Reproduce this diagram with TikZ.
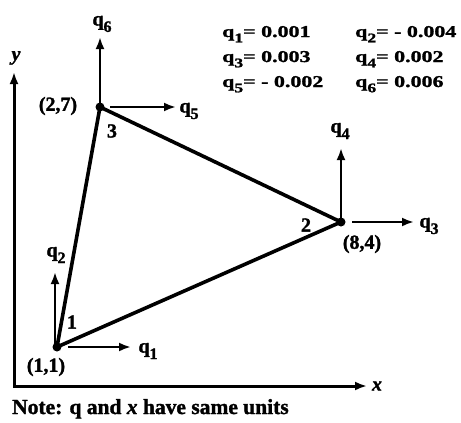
\documentclass[tikz,border=0pt]{standalone}
\usepackage{fontspec}
\setmainfont{Liberation Serif}
\newfontfamily\tablefont[FakeStretch=1.33, FakeBold=1.5]{Liberation Serif}
\newfontfamily\heavyfont[FakeBold=1.5]{Liberation Serif}
\usetikzlibrary{arrows.meta, positioning}

\tikzset{
  joint/.style={circle, fill=black, inner sep=0pt, minimum size=9pt},
  member/.style={line width=3.6pt, line join=round},
  dof/.style={line width=2.6pt, -{Latex[length=12pt,width=9pt]}},
  axis/.style={line width=3pt},
  lbl/.style={font=\heavyfont\fontsize{20}{22}\selectfont\bfseries, inner sep=0pt},
  val/.style={font=\tablefont\fontsize{16.5}{18}\selectfont\bfseries, anchor=base west, inner sep=0pt},
}
% q with a lowered index
\newcommand\qs[1]{q\raisebox{-0.7ex}{\scalebox{0.8}{#1}}}

\begin{document}
\begin{tikzpicture}[x=1pt, y=-1pt]
    \path[use as bounding box] (0,0) rectangle (461,423);

    % axes
    \coordinate (o) at (14,386);
    \coordinate (ytip) at (14,72);
    \coordinate (xtip) at (367,386);
    \draw[axis, {Latex[length=12pt,width=9pt]}-{Latex[length=12pt,width=9pt]}] (ytip) -- (o) -- (xtip);
    \node[lbl, font=\heavyfont\fontsize{20}{22}\selectfont\bfseries\itshape] (ylbl) at (16,58) {y};
    \node[lbl, font=\heavyfont\fontsize{20}{22}\selectfont\bfseries\itshape] (xlbl) at (377,386) {x};

    % element
    \node[joint] (n1) at (57,347) {};
    \node[joint] (n2) at (341,222) {};
    \node[joint] (n3) at (100,107) {};
    \draw[member] (n1.center) -- (n2.center) -- (n3.center) -- cycle;

    \node[lbl] (k1) at (72,322) {1};
    \node[lbl] (k2) at (306,225) {2};
    \node[lbl] (k3) at (112,131) {3};
    \node[lbl] (c1) at (46,367) {(1,1)};
    \node[lbl] (c2) at (362,244) {(8,4)};
    \node[lbl] (c3) at (58,106) {(2,7)};

    % nodal displacements
    \coordinate (e1) at (131,347);
    \coordinate (e2) at (55,272);
    \coordinate (e3) at (414,222);
    \coordinate (e4) at (341,148);
    \coordinate (e5) at (176,107);
    \coordinate (e6) at (100,37);
    \draw[dof] ([xshift=11pt]n1.center) -- (e1);
    \draw[dof] ([xshift=-2pt]n1.center) -- (e2);
    \draw[dof] ([xshift=11pt]n2.center) -- (e3);
    \draw[dof] (n2.center) -- (e4);
    \draw[dof] ([xshift=10pt]n3.center) -- (e5);
    \draw[dof] (n3.center) -- (e6);
    \node[lbl] (q1) at (148,351) {\qs1};
    \node[lbl] (q2) at (56,255) {\qs2};
    \node[lbl] (q3) at (429,226) {\qs3};
    \node[lbl] (q4) at (340,131) {\qs4};
    \node[lbl] (q5) at (189,111) {\qs5};
    \node[lbl] (q6) at (102,24) {\qs6};

    % values
    \node[val] (v1) at (222,37) {\qs1= 0.001};
    \node[val] (v2) at (355,37) {\qs2= - 0.004};
    \node[val] (v3) at (222,62) {\qs3= 0.003};
    \node[val] (v4) at (355,62) {\qs4= 0.002};
    \node[val] (v5) at (222,87) {\qs5= - 0.002};
    \node[val] (v6) at (355,87) {\qs6= 0.006};

    \node[anchor=base west, inner sep=0pt, font=\heavyfont\fontsize{21.5}{24}\selectfont\bfseries] (note) at (12,414)
      {Note: q and \textit{x} have same units};
  \end{tikzpicture}
\end{document}
